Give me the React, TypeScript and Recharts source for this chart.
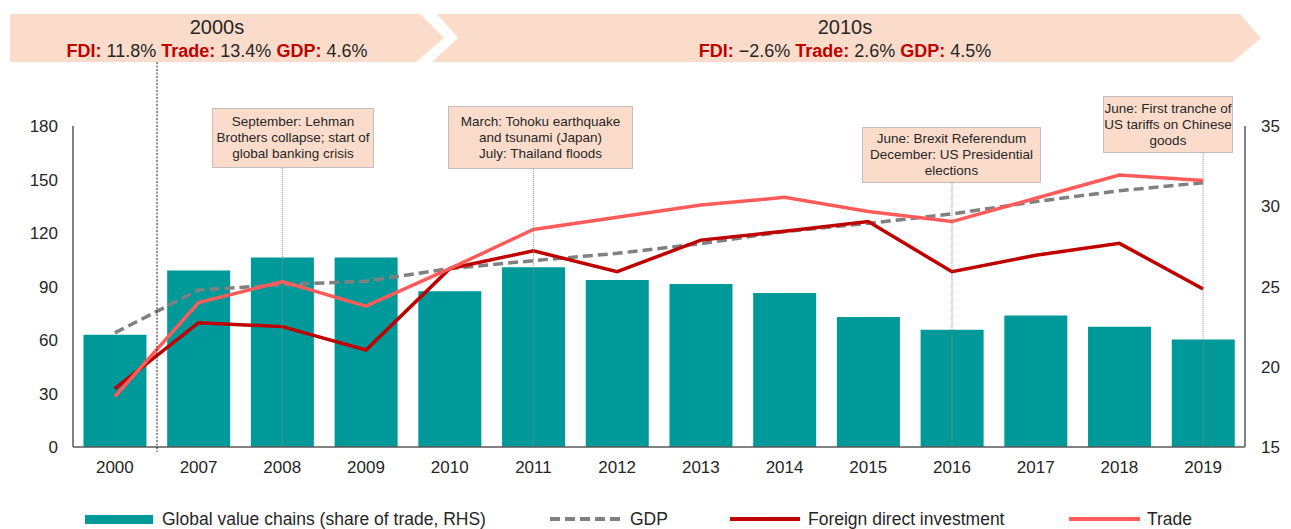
import {
  ComposedChart,
  Bar,
  Line,
  XAxis,
  YAxis,
  ReferenceLine,
} from 'recharts'

// ─── Data ─────────────────────────────────────────────────────────────────────

const YEARS = ['2000', '2007', '2008', '2009', '2010', '2011', '2012', '2013', '2014', '2015', '2016', '2017', '2018', '2019']

// share of trade, % (right axis)
const GVC = [22.0, 26.0, 26.8, 26.8, 24.7, 26.2, 25.4, 25.15, 24.6, 23.1, 22.3, 23.2, 22.5, 21.7]

// index, 2010 = 100 (left axis)
const GDP = [64, 88, 91, 93, 100, 104.5, 108.6, 114, 120.8, 125.4, 130.7, 137.6, 143.7, 148.2]
const FDI = [32.7, 69.7, 67.5, 54.4, 100, 110, 98.3, 116, 121, 126.4, 98.3, 107.5, 114.2, 88.6]
const TRADE = [28.2, 81, 92.7, 79, 100, 122, 128.8, 135.7, 140, 132, 126.4, 139.5, 152.5, 149.4]

const LEFT_TICKS = [0, 30, 60, 90, 120, 150, 180]
const RIGHT_TICKS = [15, 20, 25, 30, 35]

const DECADES = [
  { title: '2000s', fdi: '11.8%', trade: '13.4%', gdp: '4.6%' },
  { title: '2010s', fdi: '\u22122.6%', trade: '2.6%', gdp: '4.5%' },
]

const EVENTS = [
  { year: '2008', lines: ['September: Lehman', 'Brothers collapse; start of', 'global banking crisis'] },
  { year: '2011', lines: ['March: Tohoku earthquake', 'and tsunami (Japan)', 'July: Thailand floods'] },
  { year: '2016', lines: ['June: Brexit Referendum', 'December: US Presidential', 'elections'] },
  { year: '2019', lines: ['June: First tranche of', 'US tariffs on Chinese', 'goods'] },
]

const data = YEARS.map((year, i) => ({
  year,
  gvc: GVC[i],
  gdp: GDP[i],
  fdi: FDI[i],
  trade: TRADE[i],
}))

// ─── Styles ───────────────────────────────────────────────────────────────────

const FONT = '"Liberation Sans", Arial, sans-serif'
const TEXT = '#262626'
const AXIS = '#595959'
const RED_LABEL = '#c00000'
const PEACH = '#fbdccb'

const TEAL = '#009999'
const GDP_COLOR = '#808080'
const FDI_COLOR = '#c00000'
const TRADE_COLOR = '#ff5b5b'

// layout of the annotation boxes (box geometry only, not data)
const EVENT_BOXES = [
  { left: 212, top: 108, width: 162, height: 60, lineTop: 156.5 },
  { left: 448, top: 106, width: 185, height: 63, lineTop: 156 },
  { left: 862, top: 127, width: 179, height: 56, lineTop: 148 },
  { left: 1103, top: 96, width: 130, height: 57, lineTop: 165 },
]

const tickStyle = { fontSize: 17, fill: TEXT, fontFamily: FONT }

// ─── Header banners ───────────────────────────────────────────────────────────

function DecadeText({ x, d }: { x: number; d: (typeof DECADES)[number] }) {
  return (
    <g fontFamily={FONT}>
      <text x={x} y={34} textAnchor="middle" fontSize={20} fill={TEXT}>
        {d.title}
      </text>
      <text x={x} y={57} textAnchor="middle" fontSize={18} fill={TEXT}>
        <tspan fontWeight="bold" fill={RED_LABEL}>FDI:</tspan>
        <tspan> {d.fdi} </tspan>
        <tspan fontWeight="bold" fill={RED_LABEL}>Trade:</tspan>
        <tspan> {d.trade} </tspan>
        <tspan fontWeight="bold" fill={RED_LABEL}>GDP:</tspan>
        <tspan> {d.gdp}</tspan>
      </text>
    </g>
  )
}

function Banners() {
  return (
    <svg width={1291} height={80} style={{ position: 'absolute', left: 0, top: 0 }}>
      <polygon points="10,14 420,14 444,38 416,62 10,62" fill={PEACH} />
      <polygon points="437,14 1240,14 1261,38 1233,62 432,62 458,38" fill={PEACH} />
      <DecadeText x={217} d={DECADES[0]} />
      <DecadeText x={845} d={DECADES[1]} />
    </svg>
  )
}

// ─── Legend ───────────────────────────────────────────────────────────────────

function LegendRow() {
  const label = { position: 'absolute' as const, top: 509, fontSize: 17.5, color: TEXT, fontFamily: FONT, whiteSpace: 'nowrap' as const }
  return (
    <>
      <div style={{ position: 'absolute', left: 85, top: 515, width: 68, height: 9, background: TEAL }} />
      <div style={{ ...label, left: 162 }}>Global value chains (share of trade, RHS)</div>
      <svg width={80} height={10} style={{ position: 'absolute', left: 550, top: 514 }}>
        <line x1={0} y1={5} x2={72} y2={5} stroke={GDP_COLOR} strokeWidth={4} strokeDasharray="10 5" />
      </svg>
      <div style={{ ...label, left: 630 }}>GDP</div>
      <div style={{ position: 'absolute', left: 730, top: 517, width: 70, height: 4, background: FDI_COLOR }} />
      <div style={{ ...label, left: 808 }}>Foreign direct investment</div>
      <div style={{ position: 'absolute', left: 1069, top: 517, width: 71, height: 4, background: TRADE_COLOR }} />
      <div style={{ ...label, left: 1147 }}>Trade</div>
    </>
  )
}

// ─── App ──────────────────────────────────────────────────────────────────────

export default function App() {
  return (
    <div style={{ position: 'absolute', left: 0, top: 0, width: 1291, height: 529, background: '#fff', fontFamily: FONT }}>
      <Banners />

      <div style={{ position: 'absolute', left: 0, top: 0 }}>
        <ComposedChart
          width={1291}
          height={529}
          data={data}
          margin={{ top: 126, right: 0, bottom: 52, left: 0 }}
          barCategoryGap="12.5%"
        >
          <XAxis
            dataKey="year"
            height={30}
            tickLine={false}
            tickSize={0}
            tickMargin={14}
            axisLine={{ stroke: AXIS, strokeWidth: 1.5 }}
            tick={tickStyle}
            interval={0}
          />
          <YAxis
            yAxisId="left"
            width={73}
            domain={[0, 180]}
            ticks={LEFT_TICKS}
            tickLine={false}
            tickSize={0}
            tickMargin={15}
            axisLine={{ stroke: AXIS, strokeWidth: 1.5 }}
            tick={tickStyle}
          />
          <YAxis
            yAxisId="right"
            orientation="right"
            width={46}
            domain={[15, 35]}
            ticks={RIGHT_TICKS}
            tickLine={false}
            tickSize={0}
            tickMargin={16}
            axisLine={{ stroke: AXIS, strokeWidth: 1.5 }}
            tick={{ ...tickStyle, textAnchor: 'start' }}
          />
          <Bar yAxisId="right" dataKey="gvc" fill={TEAL} isAnimationActive={false} />
          <Line
            yAxisId="left"
            dataKey="gdp"
            type="linear"
            stroke={GDP_COLOR}
            strokeWidth={3.5}
            strokeDasharray="10 5"
            dot={false}
            isAnimationActive={false}
          />
          <Line
            yAxisId="left"
            dataKey="fdi"
            type="linear"
            stroke={FDI_COLOR}
            strokeWidth={3.5}
            dot={false}
            isAnimationActive={false}
          />
          <Line
            yAxisId="left"
            dataKey="trade"
            type="linear"
            stroke={TRADE_COLOR}
            strokeWidth={3.5}
            dot={false}
            isAnimationActive={false}
          />
          {EVENTS.map((e, i) => (
            <ReferenceLine
              key={e.year}
              yAxisId="left"
              segment={[
                { x: e.year, y: EVENT_BOXES[i].lineTop },
                { x: e.year, y: 0 },
              ]}
              stroke="#8c8c8c"
              strokeWidth={1}
              strokeDasharray="1 1"
            />
          ))}
        </ComposedChart>
      </div>

      {/* decade break between 2000 and 2007 */}
      <svg width={1291} height={529} style={{ position: 'absolute', left: 0, top: 0, pointerEvents: 'none' }}>
        <line x1={157} y1={62} x2={157} y2={452} stroke="#262626" strokeWidth={1} strokeDasharray="2 1.5" />
      </svg>

      {EVENTS.map((e, i) => {
        const b = EVENT_BOXES[i]
        return (
          <div
            key={e.year}
            style={{
              position: 'absolute',
              left: b.left,
              top: b.top,
              width: b.width,
              height: b.height,
              boxSizing: 'border-box',
              background: PEACH,
              border: '1.5px solid #bfbfbf',
              display: 'flex',
              flexDirection: 'column',
              justifyContent: 'center',
              alignItems: 'center',
              fontSize: 13.5,
              lineHeight: '16px',
              color: TEXT,
              whiteSpace: 'nowrap',
            }}
          >
            {e.lines.map((l) => (
              <div key={l}>{l}</div>
            ))}
          </div>
        )
      })}

      <LegendRow />
    </div>
  )
}
